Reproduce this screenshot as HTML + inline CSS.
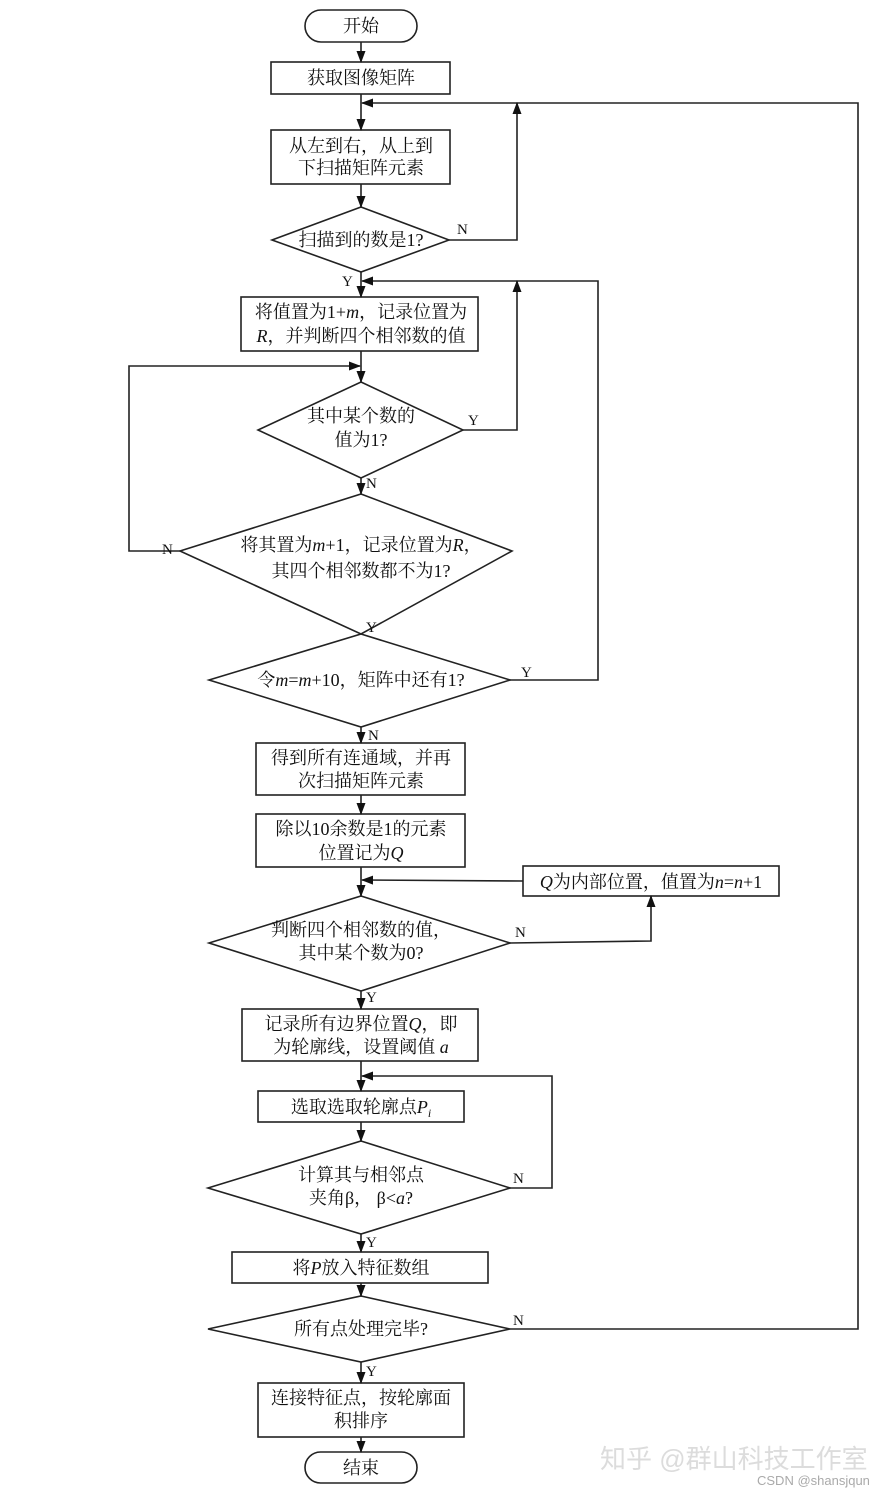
<!DOCTYPE html>
<html><head><meta charset="utf-8"><style>
html,body{margin:0;padding:0;background:#fff;}
svg{display:block}
text{font-family:"Liberation Serif","Noto Serif CJK SC",serif;font-size:18px;fill:#111;}
.l{font-size:15px}
</style></head><body>
<svg width="893" height="1494" viewBox="0 0 893 1494" xmlns="http://www.w3.org/2000/svg">
<defs><marker id="a" markerWidth="12" markerHeight="12" refX="11" refY="6" orient="auto" markerUnits="userSpaceOnUse"><path d="M0,1.5 L12,6 L0,10.5 Z" fill="#111"/></marker></defs>
<g stroke="#222" stroke-width="1.6" fill="none">
<rect x="305" y="10" width="112" height="32" rx="16"/>
<rect x="271" y="62" width="179" height="32"/>
<rect x="271" y="130" width="179" height="54"/>
<polygon points="361,207 449,240 361,272 272,240"/>
<rect x="241" y="297" width="237" height="54"/>
<polygon points="361,382 463,430 361,478 258,430"/>
<polygon points="361,494 512,551 361,634 180,551"/>
<polygon points="361,634 510,680 361,727 209,680"/>
<rect x="256" y="743" width="209" height="52"/>
<rect x="256" y="814" width="209" height="53"/>
<rect x="523" y="866" width="256" height="30"/>
<polygon points="361,896 510,943 361,991 209,943"/>
<rect x="242" y="1009" width="236" height="52"/>
<rect x="258" y="1091" width="206" height="31"/>
<polygon points="361,1141 510,1188 361,1234 208,1188"/>
<rect x="232" y="1252" width="256" height="31"/>
<polygon points="361,1296 510,1329 361,1362 208,1329"/>
<rect x="258" y="1383" width="206" height="54"/>
<rect x="305" y="1452" width="112" height="31" rx="15.5"/>
</g>
<g stroke="#222" stroke-width="1.6" fill="none" marker-end="url(#a)">
<line x1="361" y1="42" x2="361" y2="62"/>
<line x1="361" y1="94" x2="361" y2="130"/>
<line x1="361" y1="184" x2="361" y2="207"/>
<line x1="361" y1="272" x2="361" y2="297"/>
<line x1="361" y1="351" x2="361" y2="382"/>
<line x1="361" y1="478" x2="361" y2="494"/>
<line x1="361" y1="727" x2="361" y2="743"/>
<line x1="361" y1="795" x2="361" y2="814"/>
<line x1="361" y1="867" x2="361" y2="896"/>
<line x1="361" y1="991" x2="361" y2="1009"/>
<line x1="361" y1="1061" x2="361" y2="1091"/>
<line x1="361" y1="1122" x2="361" y2="1141"/>
<line x1="361" y1="1234" x2="361" y2="1252"/>
<line x1="361" y1="1283" x2="361" y2="1296"/>
<line x1="361" y1="1362" x2="361" y2="1383"/>
<line x1="361" y1="1437" x2="361" y2="1452"/>
<polyline points="510,1329 858,1329 858,103 362,103"/>
<polyline points="449,240 517,240 517,103"/>
<polyline points="510,680 598,680 598,281 362,281"/>
<polyline points="463,430 517,430 517,281"/>
<polyline points="180,551 129,551 129,366 360,366"/>
<polyline points="523,881 362,880"/>
<polyline points="510,943 651,941 651,896"/>
<polyline points="510,1188 552,1188 552,1076 362,1076"/>
</g>
<g text-anchor="middle">
<text x="361" y="32">开始</text>
<text x="361" y="84">获取图像矩阵</text>
<text x="361" y="152">从左到右，从上到</text>
<text x="361" y="174">下扫描矩阵元素</text>
<text x="361" y="246">扫描到的数是1?</text>
<text x="361" y="318">将值置为1+<tspan font-style="italic">m</tspan>，记录位置为</text>
<text x="361" y="342"><tspan font-style="italic">R</tspan>，并判断四个相邻数的值</text>
<text x="361" y="422">其中某个数的</text>
<text x="361" y="446">值为1?</text>
<text x="361" y="551">将其置为<tspan font-style="italic">m</tspan>+1，记录位置为<tspan font-style="italic">R</tspan>，</text>
<text x="361" y="577">其四个相邻数都不为1?</text>
<text x="361" y="686">令<tspan font-style="italic">m</tspan>=<tspan font-style="italic">m</tspan>+10，矩阵中还有1?</text>
<text x="361" y="764">得到所有连通域，并再</text>
<text x="361" y="787">次扫描矩阵元素</text>
<text x="361" y="835">除以10余数是1的元素</text>
<text x="361" y="859">位置记为<tspan font-style="italic">Q</tspan></text>
<text x="651" y="888"><tspan font-style="italic">Q</tspan>为内部位置，值置为<tspan font-style="italic">n</tspan>=<tspan font-style="italic">n</tspan>+1</text>
<text x="361" y="936">判断四个相邻数的值，</text>
<text x="361" y="959">其中某个数为0?</text>
<text x="361" y="1030">记录所有边界位置<tspan font-style="italic">Q</tspan>，即</text>
<text x="361" y="1053">为轮廓线，设置阈值 <tspan font-style="italic">a</tspan></text>
<text x="361" y="1113">选取选取轮廓点<tspan font-style="italic">P<tspan font-size="12" dy="4">i</tspan></tspan></text>
<text x="361" y="1181">计算其与相邻点</text>
<text x="361" y="1204">夹角β， β&lt;<tspan font-style="italic">a</tspan>?</text>
<text x="361" y="1274">将<tspan font-style="italic">P</tspan>放入特征数组</text>
<text x="361" y="1335">所有点处理完毕?</text>
<text x="361" y="1404">连接特征点，按轮廓面</text>
<text x="361" y="1427">积排序</text>
<text x="361" y="1474">结束</text>
</g>
<g>
<text class="l" x="457" y="234">N</text>
<text class="l" x="342" y="286">Y</text>
<text class="l" x="468" y="425">Y</text>
<text class="l" x="366" y="488">N</text>
<text class="l" x="162" y="554">N</text>
<text class="l" x="366" y="632">Y</text>
<text class="l" x="521" y="677">Y</text>
<text class="l" x="368" y="740">N</text>
<text class="l" x="515" y="937">N</text>
<text class="l" x="366" y="1002">Y</text>
<text class="l" x="513" y="1183">N</text>
<text class="l" x="366" y="1247">Y</text>
<text class="l" x="513" y="1325">N</text>
<text class="l" x="366" y="1376">Y</text>
</g>
<text x="600" y="1468" style="font-family:'Liberation Sans','Noto Sans CJK SC',sans-serif;font-size:26px;fill:#dcdcdc">知乎 @群山科技工作室</text>
<text x="757" y="1485" style="font-family:'Liberation Sans',sans-serif;font-size:13px;fill:#aaa">CSDN @shansjqun</text>
</svg>
</body></html>
